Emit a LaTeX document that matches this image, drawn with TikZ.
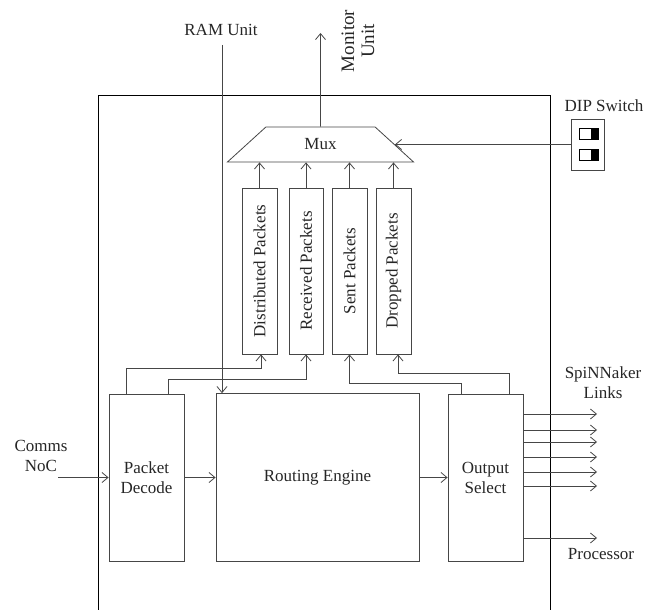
\documentclass[tikz,border=0pt]{standalone}
\usepackage{fontspec}
\setmainfont{Liberation Serif}
\usetikzlibrary{arrows.meta,shapes.geometric,calc}
\definecolor{lc}{RGB}{70,70,70}
\begin{document}
\begin{tikzpicture}[x=1pt,y=-1pt,
  every node/.style={font=\fontsize{17}{20}\selectfont, text=black!85},
  box/.style={draw=lc, line width=0.8pt, inner sep=0pt},
  con/.style={draw=lc, line width=0.8pt, -{Straight Barb[length=6pt,width=10pt]}},
  ln/.style={draw=lc, line width=0.8pt}]
\useasboundingbox (0,0) rectangle (659,610);

% outer block (open at bottom)
\draw[black, line width=0.8pt] (98,610) -- (98,95) -- (550,95) -- (550,610);

% main blocks
\node[box, minimum width=75pt, minimum height=167pt, align=center] (pd) at (146.5,477.5) {Packet\\Decode};
\node[box, minimum width=203pt, minimum height=168pt] (re) at (317.5,477.5) {Routing Engine};
\node[box, minimum width=75pt, minimum height=167pt, align=center] (os) at (485.5,477.5) {Output\\Select};

% counters
\node[box, minimum width=35pt, minimum height=166pt] (dist) at (259.5,271) {};
\node[box, minimum width=34pt, minimum height=166pt] (recv) at (306,271) {};
\node[box, minimum width=35pt, minimum height=166pt] (sent) at (349.5,271) {};
\node[box, minimum width=35pt, minimum height=166pt] (drop) at (393.5,271) {};
\node[rotate=90] (distl) at (dist) {Distributed Packets};
\node[rotate=90] (recvl) at (recv) {Received Packets};
\node[rotate=90] (sentl) at (sent) {Sent Packets};
\node[rotate=90] (dropl) at (drop) {Dropped Packets};

% mux
\node[draw=lc, line width=0.8pt, trapezium, trapezium left angle=45, trapezium right angle=45,
      trapezium stretches=true, minimum width=187pt, minimum height=35pt, inner sep=0pt] (mux) at (320.5,144.5) {Mux};

\foreach \c in {dist,recv,sent,drop}
  \draw[con] (\c.north) -- (\c.north |- mux.south);

% monitor unit
\node[rotate=90, align=center, font=\fontsize{19}{20}\selectfont] (mon) at (358,41) {Monitor\\Unit};
\coordinate (monend) at (320.5,33);
\draw[con] (mux.north) -- (monend);

% RAM unit
\node (ram) at (221,30) {RAM Unit};
\coordinate (ramtop) at (222,45);
\draw[con] (ramtop) -- (ramtop |- re.north);

% DIP switch
\node (diplab) at (604,106) {DIP Switch};
\node[box, minimum width=33pt, minimum height=51pt] (dip) at (587.5,144.5) {};
\node[draw=black, fill=white, line width=0.6pt, minimum width=19pt, minimum height=11pt, inner sep=0pt] (sw1) at (588.5,133.5) {};
\node[draw=black, fill=white, line width=0.6pt, minimum width=19pt, minimum height=11pt, inner sep=0pt] (sw2) at (588.5,155) {};
\fill[black] ([xshift=2pt]sw1.north) rectangle (sw1.south east);
\fill[black] ([xshift=2pt]sw2.north) rectangle (sw2.south east);
\draw[con] (dip.west) -- (mux.east);

% comms NoC
\node[align=center] (comms) at (41,456) {Comms\\NoC};
\coordinate (cin) at (58,477.5);
\draw[con] (cin) -- (pd.west);
\draw[con] (pd.east) -- (re.west);
\draw[con] (re.east) -- (os.west);

% feedback into counters
\draw[con] ([xshift=18pt]pd.north west) -- ++(0,-25) -| ([xshift=1.5pt]dist.south);
\draw[con] ([xshift=-16pt]pd.north east) -- ++(0,-14) -| (recv.south);
\draw[con] ([xshift=-14pt]os.north east) -- ++(0,-20) -| ([xshift=4.5pt]drop.south);
\draw[con] ([xshift=14pt]os.north west) -- ++(0,-10) -| (sent.south);

% outputs
\node[align=center] (links) at (603,383) {SpiNNaker\\Links};
\node (proc) at (601,554) {Processor};
\coordinate (o1) at (597,414);
\coordinate (o2) at (597,430);
\coordinate (o3) at (597,442);
\coordinate (o4) at (597,457);
\coordinate (o5) at (597,472);
\coordinate (o6) at (597,486);
\coordinate (o7) at (597,538);
\foreach \o in {o1,o2,o3,o4,o5,o6,o7}
  \draw[con] (os.east |- \o) -- (\o);
\end{tikzpicture}
\end{document}
